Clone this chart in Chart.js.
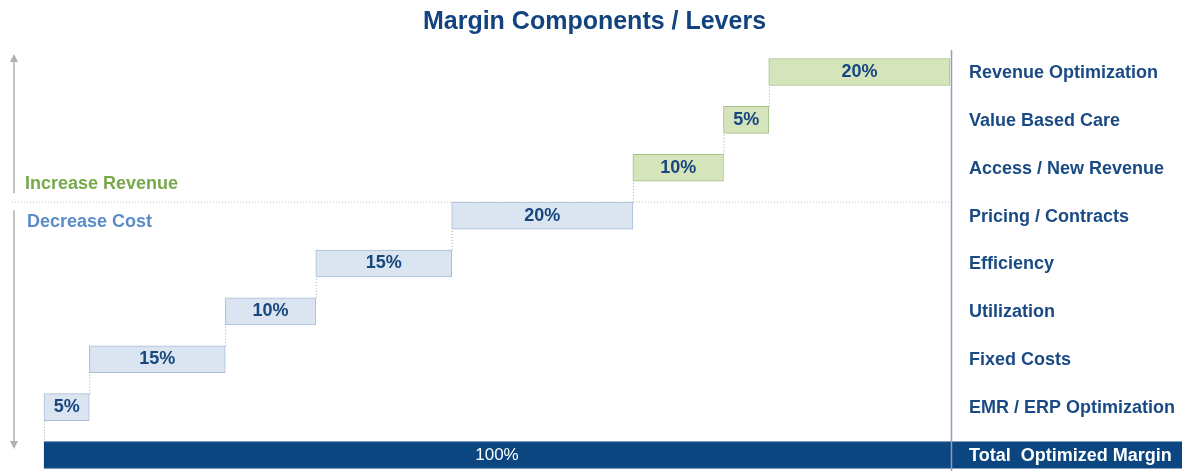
<!DOCTYPE html>
<html>
<head>
<meta charset="utf-8">
<script src="https://cdn.jsdelivr.net/npm/chart.js@4.4.0/dist/chart.umd.min.js"></script>
<style>
  html, body { margin: 0; padding: 0; background: #fff; }
  canvas { display: block; }
</style>
</head>
<body>
<canvas id="waterfall" width="1189" height="471"></canvas>
<script>
var categories = ["Revenue Optimization", "Value Based Care", "Access / New Revenue", "Pricing / Contracts",
  "Efficiency", "Utilization", "Fixed Costs", "EMR / ERP Optimization", "Total  Optimized Margin"];
var values = [20, 5, 10, 20, 15, 10, 15, 5, 100];
var groups = ["revenue", "revenue", "revenue", "cost", "cost", "cost", "cost", "cost", "total"];

var FONT = "'Liberation Sans', Arial, sans-serif";
var NAVY = "#1a4a85";
var fills = { revenue: "#d6e4bc", cost: "#dbe5f1", total: "#0b4680" };
var borders = { revenue: "#a3c085", cost: "#a9bcd6", total: "#0b4680" };

// floating ranges: levers stack up from the bottom row, total spans 0..100
var ranges = [];
var run = 0;
for (var i = categories.length - 1; i >= 0; i--) {
  if (groups[i] === "total") {
    ranges[i] = [0, values[i]];
  } else {
    ranges[i] = [run, run + values[i]];
    run += values[i];
  }
}

var BAR = 27;

var decor = {
  id: "decor",
  beforeDraw: function (chart) {
    var ctx = chart.ctx, area = chart.chartArea, y = chart.scales.y;
    ctx.save();
    ctx.fillStyle = "#fff";
    ctx.fillRect(0, 0, chart.width, chart.height);

    // title
    ctx.fillStyle = "#12437f";
    ctx.font = "bold 25px " + FONT;
    ctx.textAlign = "center";
    ctx.textBaseline = "middle";
    ctx.fillText("Margin Components / Levers", chart.width / 2, 22);

    // total band carried under the label column
    var ti = groups.indexOf("total");
    var ty = y.getPixelForValue(ti);
    ctx.fillStyle = fills.total;
    ctx.fillRect(area.right, ty - BAR / 2, 1182 - area.right, BAR);

    // left double arrow
    var split = y.getPixelForValue(groups.indexOf("cost")) - BAR / 2;
    ctx.strokeStyle = "#c4c4c4";
    ctx.fillStyle = "#b0b0b0";
    ctx.lineWidth = 2;
    ctx.beginPath();
    ctx.moveTo(14, 60); ctx.lineTo(14, split - 9);
    ctx.moveTo(14, split + 8); ctx.lineTo(14, 443);
    ctx.stroke();
    ctx.beginPath();
    ctx.moveTo(14, 54); ctx.lineTo(10, 62); ctx.lineTo(18, 62); ctx.closePath();
    ctx.moveTo(14, 449); ctx.lineTo(10, 441); ctx.lineTo(18, 441); ctx.closePath();
    ctx.fill();

    // revenue / cost separator
    ctx.strokeStyle = "#bdbdbd";
    ctx.lineWidth = 1;
    ctx.setLineDash([1, 2]);
    ctx.beginPath();
    ctx.moveTo(12, split);
    ctx.lineTo(area.right, split);
    ctx.stroke();
    ctx.setLineDash([]);

    ctx.font = "bold 18px " + FONT;
    ctx.textAlign = "left";
    ctx.fillStyle = "#77a84a";
    ctx.fillText("Increase Revenue", 25, split - 18);
    ctx.fillStyle = "#5b8cc8";
    ctx.fillText("Decrease Cost", 27, split + 20);
    ctx.restore();
  },
  afterDatasetsDraw: function (chart) {
    var ctx = chart.ctx, area = chart.chartArea, x = chart.scales.x, y = chart.scales.y;
    var bars = chart.getDatasetMeta(0).data;
    ctx.save();

    // right divider, running through the total band
    ctx.strokeStyle = "#8aa0bd";
    ctx.lineWidth = 1.5;
    ctx.beginPath();
    ctx.moveTo(area.right + 1.5, 50);
    ctx.lineTo(area.right + 1.5, chart.height);
    ctx.stroke();

    // dotted connectors between steps
    ctx.strokeStyle = "#a8a8a8";
    ctx.lineWidth = 1;
    ctx.setLineDash([1, 2]);
    ctx.beginPath();
    for (var i = 1; i < categories.length; i++) {
      if (groups[i] === "total") {
        var px0 = x.getPixelForValue(ranges[i - 1][0]) + 0.5;
        ctx.moveTo(px0, y.getPixelForValue(i - 1) + BAR / 2);
        ctx.lineTo(px0, y.getPixelForValue(i) - BAR / 2);
        continue;
      }
      var px = x.getPixelForValue(ranges[i][1]) + 0.5;
      ctx.moveTo(px, y.getPixelForValue(i) - BAR / 2);
      ctx.lineTo(px, y.getPixelForValue(i - 1) + BAR / 2);
    }
    ctx.stroke();
    ctx.setLineDash([]);

    // value labels in bars
    ctx.textAlign = "center";
    ctx.textBaseline = "middle";
    bars.forEach(function (bar, i) {
      var c = bar.getCenterPoint();
      if (groups[i] === "total") {
        ctx.font = "17px " + FONT;
        ctx.fillStyle = "#fff";
      } else {
        ctx.font = "bold 18px " + FONT;
        ctx.fillStyle = "#17477f";
      }
      ctx.fillText(values[i] + "%", c.x, c.y);
    });

    // category labels in the right column
    ctx.textAlign = "left";
    ctx.font = "bold 18px " + FONT;
    categories.forEach(function (name, i) {
      ctx.fillStyle = groups[i] === "total" ? "#fff" : NAVY;
      ctx.fillText(name, area.right + 19, y.getPixelForValue(i) + 1);
    });
    ctx.restore();
  }
};

new Chart("waterfall", {
  type: "bar",
  data: {
    labels: categories,
    datasets: [
      {
        data: ranges,
        backgroundColor: groups.map(function (g) { return fills[g]; }),
        borderColor: groups.map(function (g) { return borders[g]; }),
        borderWidth: 1,
        borderSkipped: false,
        barThickness: BAR,
        clip: false,
      },
    ],
  },
  options: {
    indexAxis: "y",
    responsive: false,
    animation: false,
    layout: { padding: { left: 44, right: 239, top: 72, bottom: 16 } },
    scales: {
      x: { display: false, min: 0, max: 100 },
      y: { display: false, offset: false },
    },
    plugins: {
      legend: { display: false },
      tooltip: { enabled: false },
    },
  },
  plugins: [decor],
});
</script>
</body>
</html>
